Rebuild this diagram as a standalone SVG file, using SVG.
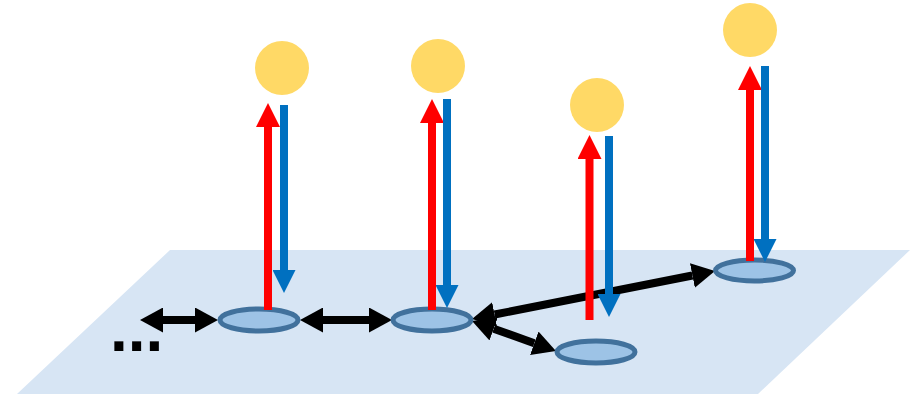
<svg xmlns="http://www.w3.org/2000/svg" width="916" height="396" viewBox="0 0 916 396">
  <style>
    .plane { fill: #D7E5F4; }
    .node { fill: #9DC3E6; stroke: #41719C; stroke-width: 5; }
    .sun { fill: #FFD966; }
    .up { stroke: #FF0000; stroke-width: 8; fill: none; marker-end: url(#headRed); }
    .down { stroke: #0070C0; stroke-width: 8; fill: none; marker-end: url(#headBlue); }
    .link { stroke: #000000; stroke-width: 8; fill: none; marker-start: url(#headBlack); marker-end: url(#headBlack); }
    .dots { font-family: "Liberation Sans", Arial, sans-serif; font-weight: bold; font-size: 64px; fill: #000000; }
  </style>
  <defs>
    <marker id="headRed" markerUnits="userSpaceOnUse" markerWidth="24" markerHeight="24" refX="0" refY="12" orient="auto">
      <path d="M0,0 L24,12 L0,24 z" fill="#FF0000"/>
    </marker>
    <marker id="headBlue" markerUnits="userSpaceOnUse" markerWidth="23" markerHeight="23" refX="0" refY="11.5" orient="auto">
      <path d="M0,0 L23,11.5 L0,23 z" fill="#0070C0"/>
    </marker>
    <marker id="headBlack" markerUnits="userSpaceOnUse" markerWidth="23" markerHeight="25" refX="0" refY="12.5" orient="auto-start-reverse">
      <path d="M0,0 L23,12.5 L0,25 z" fill="#000000"/>
    </marker>
  </defs>

  <!-- ground plane -->
  <polygon class="plane" points="170,250 910,250 758,394 17,394"/>

  <!-- links between stations -->
  <g id="links">
    <line class="link" x1="163" y1="320" x2="195" y2="320"/>
    <line class="link" x1="323" y1="320" x2="369" y2="320"/>
    <line class="link" x1="494.6" y1="314.5" x2="692.4" y2="275.5"/>
    <line class="link" x1="493.7" y1="328.7" x2="534.3" y2="343.3"/>
  </g>

  <!-- stations on the plane -->
  <g id="node1"><ellipse class="node" cx="259" cy="320" rx="39" ry="11"/></g>
  <g id="node2"><ellipse class="node" cx="432" cy="320" rx="39" ry="11"/></g>
  <g id="node3"><ellipse class="node" cx="596" cy="352" rx="39" ry="11"/></g>
  <g id="node4"><ellipse class="node" cx="754.5" cy="270.5" rx="39" ry="10.5"/></g>

  <!-- satellites -->
  <g id="sun1"><circle class="sun" cx="282" cy="68" r="27"/></g>
  <g id="sun2"><circle class="sun" cx="438" cy="66" r="27"/></g>
  <g id="sun3"><circle class="sun" cx="597" cy="105" r="27"/></g>
  <g id="sun4"><circle class="sun" cx="750" cy="30" r="27"/></g>

  <!-- uplinks and downlinks -->
  <g id="beams">
    <line class="up" x1="268" y1="310" x2="268" y2="127"/>
    <line class="down" x1="284" y1="105" x2="284" y2="270"/>
    <line class="up" x1="432" y1="310" x2="432" y2="123"/>
    <line class="down" x1="447" y1="99" x2="447" y2="285"/>
    <line class="up" x1="589.5" y1="320" x2="589.5" y2="159"/>
    <line class="down" x1="609" y1="136" x2="609" y2="294"/>
    <line class="up" x1="750" y1="261" x2="750" y2="90"/>
    <line class="down" x1="765" y1="66" x2="765" y2="239"/>
  </g>

  <text class="dots" x="110" y="351">...</text>
</svg>
